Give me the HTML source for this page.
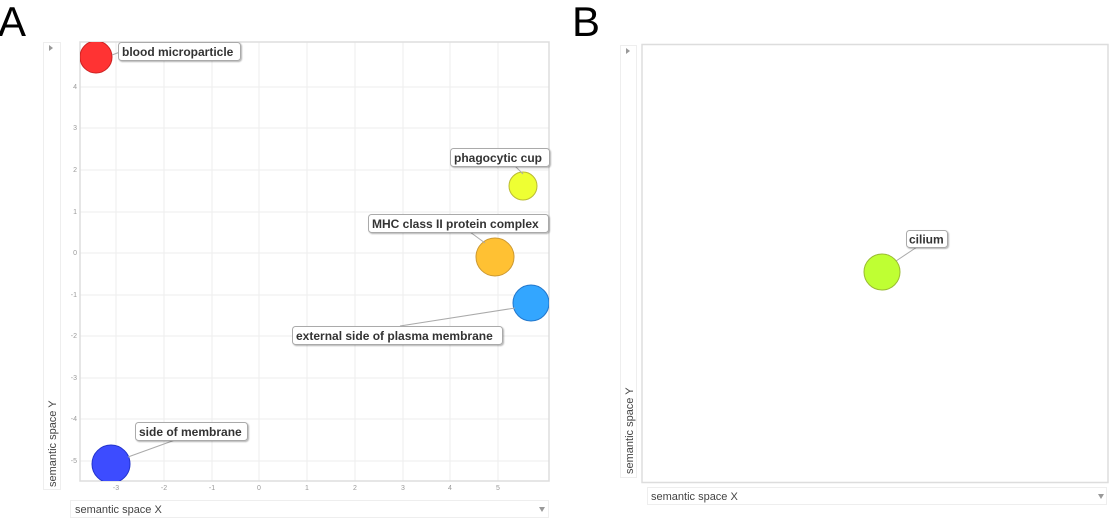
<!DOCTYPE html>
<html><head><meta charset="utf-8"><style>
body{margin:0;background:#fff;width:1113px;height:519px;overflow:hidden}
svg{font-family:"Liberation Sans",sans-serif}
.t{font-size:7px;fill:#999}
.lb{font-size:12px;font-weight:bold;fill:#333}
</style></head><body>
<svg width="1113" height="519" xmlns="http://www.w3.org/2000/svg">
<defs><clipPath id="ca"><rect x="80" y="42" width="469" height="439"/></clipPath>
<filter id="sh"><feDropShadow dx="1" dy="1" stdDeviation="0.8" flood-opacity="0.3"/></filter></defs>
<text x="-2" y="36" font-size="42" fill="#000">A</text>
<text x="572" y="36" font-size="42" fill="#000">B</text>
<!-- Panel A -->
<rect x="43.5" y="42.5" width="17" height="447" fill="#fff" stroke="#eee"/>
<path d="M49 45 L53 48 L49 51Z" fill="#999"/>
<text transform="translate(56,487) rotate(-90)" font-size="11" fill="#444">semantic space Y</text>
<rect x="80" y="42" width="469" height="439" fill="#fff"/>
<g stroke="#eee" stroke-width="1">
<line x1="116" y1="42" x2="116" y2="481"/><line x1="164" y1="42" x2="164" y2="481"/><line x1="212" y1="42" x2="212" y2="481"/><line x1="259" y1="42" x2="259" y2="481"/><line x1="307" y1="42" x2="307" y2="481"/><line x1="355" y1="42" x2="355" y2="481"/><line x1="403" y1="42" x2="403" y2="481"/><line x1="450" y1="42" x2="450" y2="481"/><line x1="498" y1="42" x2="498" y2="481"/>
<line x1="80" y1="87" x2="549" y2="87"/><line x1="80" y1="128" x2="549" y2="128"/><line x1="80" y1="170" x2="549" y2="170"/><line x1="80" y1="212" x2="549" y2="212"/><line x1="80" y1="253" x2="549" y2="253"/><line x1="80" y1="295" x2="549" y2="295"/><line x1="80" y1="336" x2="549" y2="336"/><line x1="80" y1="378" x2="549" y2="378"/><line x1="80" y1="419" x2="549" y2="419"/><line x1="80" y1="461" x2="549" y2="461"/>
</g>
<rect x="80" y="42" width="469" height="439" fill="none" stroke="#ddd" stroke-width="1.5"/>
<g class="t" text-anchor="end">
<text x="77" y="89">4</text><text x="77" y="130">3</text><text x="77" y="172">2</text><text x="77" y="214">1</text><text x="77" y="255">0</text><text x="77" y="297">-1</text><text x="77" y="338">-2</text><text x="77" y="380">-3</text><text x="77" y="421">-4</text><text x="77" y="463">-5</text>
</g>
<g class="t" text-anchor="middle">
<text x="116" y="490">-3</text><text x="164" y="490">-2</text><text x="212" y="490">-1</text><text x="259" y="490">0</text><text x="307" y="490">1</text><text x="355" y="490">2</text><text x="403" y="490">3</text><text x="450" y="490">4</text><text x="498" y="490">5</text>
</g>
<g clip-path="url(#ca)">
<circle cx="96" cy="57" r="16" fill="#ff3333" stroke="#c22" stroke-width="1"/>
<circle cx="523" cy="186" r="14" fill="#eeff33" stroke="#bb3" stroke-width="1"/>
<circle cx="495" cy="257" r="19" fill="#ffc133" stroke="#c93" stroke-width="1"/>
<circle cx="531" cy="303" r="18" fill="#33a6ff" stroke="#27c" stroke-width="1"/>
<circle cx="111" cy="464" r="19" fill="#3d4cff" stroke="#23c" stroke-width="1"/>
</g>
<g stroke="#aaa" stroke-width="1">
<line x1="112" y1="55" x2="120" y2="52"/><line x1="515" y1="166" x2="523" y2="174"/><line x1="470" y1="232" x2="485" y2="243"/><line x1="400" y1="326" x2="515" y2="308"/><line x1="128" y1="457" x2="175" y2="440"/>
</g>
<g filter="url(#sh)" fill="#fff" stroke="#aaa">
<rect x="118.5" y="42.5" width="122" height="18" rx="3"/>
<rect x="450.5" y="148.5" width="99" height="18" rx="3"/>
<rect x="368.5" y="214.5" width="180" height="18" rx="3"/>
<rect x="292.5" y="326.5" width="210" height="18" rx="3"/>
<rect x="135.5" y="422.5" width="112" height="18" rx="3"/>
</g>
<g class="lb">
<text x="122" y="56">blood microparticle</text>
<text x="454" y="162">phagocytic cup</text>
<text x="372" y="228">MHC class II protein complex</text>
<text x="296" y="340">external side of plasma membrane</text>
<text x="139" y="436">side of membrane</text>
</g>
<rect x="70.5" y="500.5" width="478" height="17" fill="#fff" stroke="#eee"/>
<text x="75" y="513" font-size="11" fill="#444">semantic space X</text>
<path d="M539 507 L545 507 L542 512Z" fill="#999"/>
<!-- Panel B -->
<rect x="620.5" y="45.5" width="16" height="432" fill="#fff" stroke="#eee"/>
<path d="M626 48 L630 51 L626 54Z" fill="#999"/>
<text transform="translate(633,474) rotate(-90)" font-size="11" fill="#444">semantic space Y</text>
<rect x="642" y="44.5" width="466" height="438" fill="#fff" stroke="#ddd" stroke-width="1.5"/>
<line x1="896" y1="261" x2="917" y2="247" stroke="#aaa"/>
<circle cx="882" cy="272" r="18" fill="#bfff33" stroke="#9b3" stroke-width="1"/>
<rect x="906.5" y="230.5" width="41" height="17" rx="3" fill="#fff" stroke="#aaa" filter="url(#sh)"/>
<text class="lb" x="909" y="243.5">cilium</text>
<rect x="647.5" y="487.5" width="459" height="17" fill="#fff" stroke="#eee"/>
<text x="651" y="500" font-size="11" fill="#444">semantic space X</text>
<path d="M1098 494 L1104 494 L1101 499Z" fill="#999"/>
</svg>
</body></html>
